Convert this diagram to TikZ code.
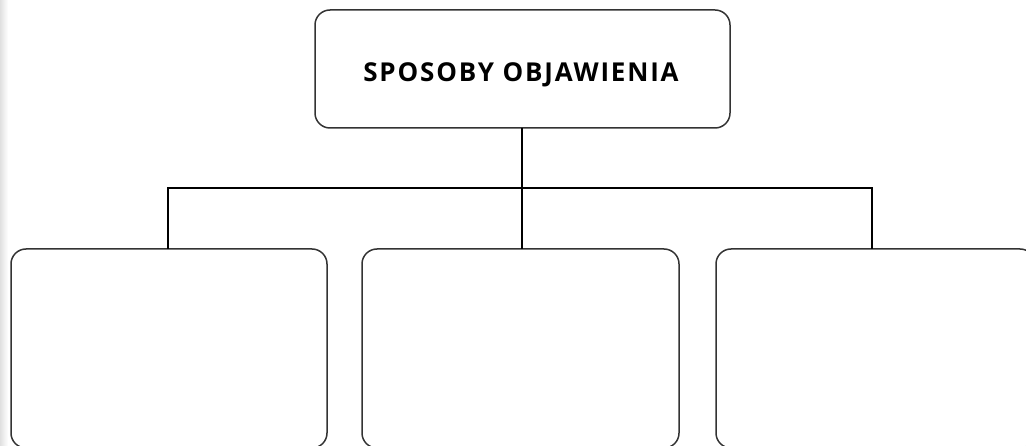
\documentclass[tikz,border=0pt]{standalone}
\usepackage{fontspec}
\setmainfont{Open Sans}
\newfontfamily\titlefont[LetterSpace=7]{Open Sans Bold}
\begin{document}
\begin{tikzpicture}[x=1pt,y=-1pt,
  box/.style={draw=black!80,line width=1.5pt,rounded corners=15pt},
  conn/.style={draw=black,line width=1.1pt}]
\useasboundingbox (0,0) rectangle (1026,446);
\shade[left color=black!12,right color=white] (0,0) rectangle (8,446);
\begin{scope}
\clip (0,0) rectangle (1026,446);
\draw[box] (315,10) rectangle (730,128);
\node[font=\titlefont\fontsize{26}{30}\selectfont] (top) at (521,75) {SPOSOBY OBJAWIENIA};
\coordinate (topb) at (522,128);
\draw[box] (11,249) rectangle (327,448);
\draw[box] (362,249) rectangle (679,448);
\draw[box] (716,249) rectangle (1035,448);
\coordinate (b1) at (168,249);
\coordinate (b2) at (522,249);
\coordinate (b3) at (872,249);
\coordinate (h) at (522,188);
\end{scope}
\draw[conn] (topb) -- (b2);
\draw[conn] (b1) |- (h) -| (b3);
\end{tikzpicture}
\end{document}
